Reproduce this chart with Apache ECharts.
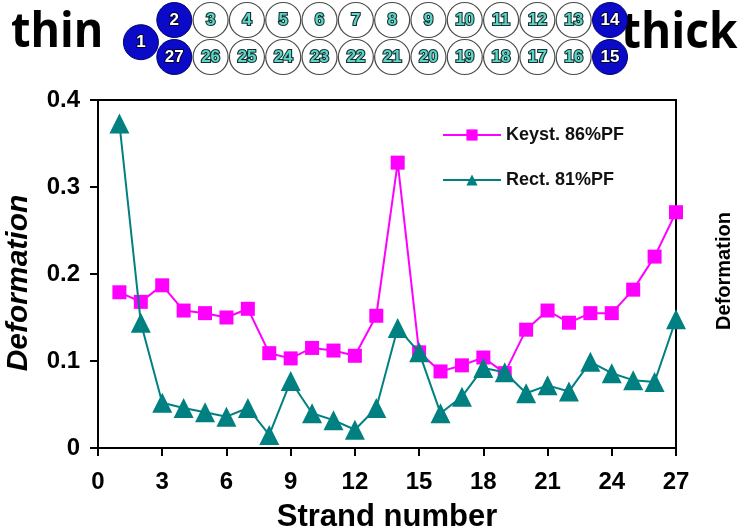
<!DOCTYPE html>
<html>
<head>
<meta charset="utf-8">
<style>
  html, body { margin: 0; padding: 0; background: #fff; }
  #chart { width: 744px; height: 532px; }
</style>
<script src="https://cdn.jsdelivr.net/npm/echarts@6/dist/echarts.min.js"></script>
</head>
<body>
<div id="chart"></div>
<script>
// Strand numbers along the cable
const strands = [1, 2, 3, 4, 5, 6, 7, 8, 9, 10, 11, 12, 13, 14, 15, 16, 17, 18, 19, 20, 21, 22, 23, 24, 25, 26, 27];
// Deformation per strand
const keystone = [0.179, 0.168, 0.187, 0.158, 0.155, 0.150, 0.160, 0.109, 0.103, 0.115, 0.112, 0.106, 0.152, 0.328,
                  0.110, 0.088, 0.095, 0.104, 0.086, 0.136, 0.158, 0.144, 0.155, 0.155, 0.182, 0.220, 0.271];
const rectangular = [0.373, 0.144, 0.052, 0.046, 0.041, 0.036, 0.046, 0.015, 0.077, 0.040, 0.032, 0.021, 0.046, 0.138,
                     0.110, 0.040, 0.059, 0.092, 0.087, 0.063, 0.072, 0.065, 0.099, 0.086, 0.078, 0.076, 0.148];
const seriesNames = ['Keyst. 86%PF', 'Rect. 81%PF'];
const xTicks = [0, 3, 6, 9, 12, 15, 18, 21, 24, 27];
const yTicks = [0, 0.1, 0.2, 0.3, 0.4];

// Cable cross-section: strand 1 at the thin edge, two rows running to the thick edge
const topRow = [2, 3, 4, 5, 6, 7, 8, 9, 10, 11, 12, 13, 14];
const bottomRow = [27, 26, 25, 24, 23, 22, 21, 20, 19, 18, 17, 16, 15];
const edgeStrands = [1, 2, 14, 15, 27];

const sectionData = [{ value: [-0.92, 0.4, 1] }];
topRow.forEach((s, i) => sectionData.push({ value: [i, 1, s] }));
bottomRow.forEach((s, i) => sectionData.push({ value: [i, 0, s] }));
sectionData.forEach(d => {
  const edge = edgeStrands.includes(d.value[2]);
  d.itemStyle = edge
    ? { color: '#0a0ac8', borderColor: '#04046a', borderWidth: 1, opacity: 1 }
    : { color: '#ffffff', borderColor: '#4a4a4a', borderWidth: 1.2, opacity: 1 };
  d.label = edge
    ? { color: '#ffffff', textBorderColor: '#000030', textBorderWidth: 2 }
    : { color: '#5fd5c8', textBorderColor: '#123030', textBorderWidth: 2.2 };
});

const chart = echarts.init(document.getElementById('chart'), null, { renderer: 'canvas' });
const axisFont = 'Liberation Sans, Arial, sans-serif';

chart.setOption({
  animation: false,
  backgroundColor: '#ffffff',
  grid: [
    { left: 98, right: 68, top: 100, bottom: 84, containLabel: false, outerBoundsMode: 'none',
      show: true, borderColor: '#000', borderWidth: 2, backgroundColor: 'transparent' },
    { left: 138, width: 472, top: 20, height: 37, containLabel: false, outerBoundsMode: 'none', show: false }
  ],
  legend: {
    data: seriesNames,
    orient: 'vertical',
    left: 437,
    top: 121,
    itemWidth: 58,
    itemHeight: 14,
    itemGap: 27,
    textStyle: { fontFamily: axisFont, fontWeight: 'bold', fontSize: 18, color: '#111' }
  },
  xAxis: [
    {
      gridIndex: 0, type: 'value', min: xTicks[0], max: xTicks[xTicks.length - 1], interval: 3,
      name: 'Strand number', nameLocation: 'middle', nameGap: 54,
      nameTextStyle: { fontFamily: axisFont, fontWeight: 'bold', fontSize: 31, color: '#000' },
      axisLine: { lineStyle: { color: '#000', width: 2 } },
      axisTick: { show: true, inside: false, length: 8, lineStyle: { color: '#000', width: 2 } },
      axisLabel: { margin: 22, fontFamily: axisFont, fontWeight: 'bold', fontSize: 24, color: '#000' },
      splitLine: { show: false }
    },
    { gridIndex: 1, type: 'value', min: -1, max: 12, show: false }
  ],
  yAxis: [
    {
      gridIndex: 0, type: 'value', min: yTicks[0], max: yTicks[yTicks.length - 1], interval: 0.1,
      name: 'Deformation', nameLocation: 'middle', nameGap: 64, nameRotate: 90,
      nameTextStyle: { fontFamily: axisFont, fontWeight: 'bold', fontStyle: 'italic', fontSize: 30, color: '#000',
                       padding: [0, 18, 0, 0] },
      axisLine: { lineStyle: { color: '#000', width: 2 } },
      axisTick: { show: true, inside: false, length: 8, lineStyle: { color: '#000', width: 2 } },
      axisLabel: { margin: 18, fontFamily: axisFont, fontWeight: 'bold', fontSize: 24, color: '#000' },
      splitLine: { show: false }
    },
    { gridIndex: 1, type: 'value', min: 0, max: 1, show: false }
  ],
  series: [
    {
      name: seriesNames[0], type: 'line', xAxisIndex: 0, yAxisIndex: 0,
      data: strands.map((s, i) => [s, keystone[i]]),
      symbol: 'rect', symbolSize: 14,
      lineStyle: { color: '#ff00ff', width: 2 },
      itemStyle: { color: '#ff00ff' },
      z: 3
    },
    {
      name: seriesNames[1], type: 'line', xAxisIndex: 0, yAxisIndex: 0,
      data: strands.map((s, i) => [s, rectangular[i]]),
      symbol: 'triangle', symbolSize: 20,
      lineStyle: { color: '#008080', width: 2 },
      itemStyle: { color: '#008080' },
      z: 4
    },
    {
      name: 'cross-section', type: 'scatter', xAxisIndex: 1, yAxisIndex: 1,
      data: sectionData, symbol: 'circle', symbolSize: 35, clip: false, silent: true,
      label: {
        show: true, position: 'inside', formatter: p => p.value[2],
        fontFamily: axisFont, fontWeight: 'bold', fontSize: 17
      }
    }
  ],
  graphic: [
    { type: 'text', left: 11, top: 9, scaleY: 1.08,
      style: { text: 'thin', font: 'bold 45px "Open Sans", "Noto Sans", sans-serif', fill: '#000' } },
    { type: 'text', left: 621, top: 9, scaleY: 1.08,
      style: { text: 'thick', font: 'bold 46px "Open Sans", "Noto Sans", sans-serif', fill: '#000' } },
    { type: 'text', x: 724, y: 271, rotation: Math.PI / 2,
      style: { text: 'Deformation', font: 'bold 20px "Liberation Sans", Arial, sans-serif', fill: '#000', align: 'center', verticalAlign: 'middle' } }
  ]
});
</script>
</body>
</html>
